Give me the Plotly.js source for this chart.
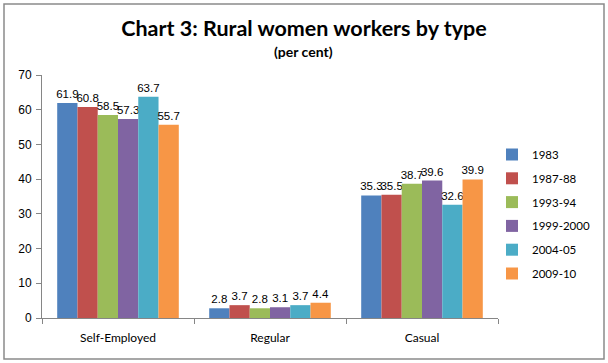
<!DOCTYPE html>
<html>
<head>
<meta charset="utf-8">
<script src="https://cdn.plot.ly/plotly-3.0.1.min.js"></script>
<style>
html,body{margin:0;padding:0;background:#fff;}
#chart{width:608px;height:363px;}
</style>
</head>
<body>
<div id="chart"></div>
<script>
const categories = ["Self-Employed", "Regular", "Casual"];
const seriesNames = ["1983", "1987-88", "1993-94", "1999-2000", "2004-05", "2009-10"];
const s1983 = [61.9, 2.8, 35.3];
const s1987 = [60.8, 3.7, 35.5];
const s1993 = [58.5, 2.8, 38.7];
const s1999 = [57.3, 3.1, 39.6];
const s2004 = [63.7, 3.7, 32.6];
const s2009 = [55.7, 4.4, 39.9];
const yTicks = [0, 10, 20, 30, 40, 50, 60, 70];

const seriesValues = [s1983, s1987, s1993, s1999, s2004, s2009];
const colors = ["#4F81BD", "#C0504D", "#9BBB59", "#8064A2", "#4BACC6", "#F79646"];

const traces = seriesValues.map((vals, i) => ({
  type: "bar",
  name: seriesNames[i],
  legendgroup: seriesNames[i],
  x: categories,
  y: vals,
  text: vals.map(v => v.toFixed(1)),
  textposition: "outside",
  constraintext: "none",
  cliponaxis: false,
  textfont: {family: "Liberation Sans, Arial, sans-serif", size: 11.5, color: "#000"},
  marker: {color: colors[i], line: {width: 0}},
  hoverinfo: "skip"
}));

const L = 42, R = 110, T = 75, B = 45, W = 608, H = 363;
const pw = W - L - R, ph = H - T - B;
function px2x(px){ return (px - L) / pw; }
function py2y(py){ return (H - B - py) / ph; }

const layout = {
  width: W, height: H,
  margin: {l: L, r: R, t: T, b: B, pad: 0, autoexpand: false},
  paper_bgcolor: "#fff",
  plot_bgcolor: "#fff",
  showlegend: true,
  bargap: 0.2,
  bargroupgap: 0,
  title: {
    text: "<b>Chart 3: Rural women workers by type</b>",
    font: {family: "Lato, Open Sans, sans-serif", size: 21.5, color: "#000"},
    x: 0.5, xanchor: "center", xref: "container",
    y: 1 - 28 / H, yanchor: "middle", yref: "container"
  },
  annotations: [{
    text: "<b>(per cent)</b>",
    xref: "paper", yref: "paper",
    x: px2x(303), y: py2y(51),
    xanchor: "center", yanchor: "middle",
    showarrow: false,
    font: {family: "Lato, Open Sans, sans-serif", size: 14, color: "#000"}
  }],
  xaxis: {
    type: "category",
    showline: true, linecolor: "#868686", linewidth: 1,
    ticks: "outside", tickson: "boundaries", ticklen: 5, tickcolor: "#868686",
    ticklabelstandoff: 9,
    tickfont: {family: "Lato, Open Sans, sans-serif", size: 12, color: "#000"},
    showgrid: false, zeroline: false, fixedrange: true
  },
  yaxis: {
    range: [0, 70],
    tickvals: yTicks,
    ticktext: yTicks.map(String),
    showline: true, linecolor: "#868686", linewidth: 1,
    ticks: "outside", ticklen: 5, tickcolor: "#868686",
    ticklabelstandoff: 2,
    tickfont: {family: "Liberation Sans, Arial, sans-serif", size: 12, color: "#000"},
    showgrid: false, zeroline: false, fixedrange: true
  },
  legend: {
    x: px2x(492), y: py2y(140),
    xanchor: "left", yanchor: "top",
    font: {family: "Lato, Open Sans, sans-serif", size: 11.5, color: "#000"},
    bgcolor: "rgba(0,0,0,0)",
    itemwidth: 30,
    tracegroupgap: 4.8,
    traceorder: "grouped"
  },
  shapes: [{
    type: "rect", xref: "paper", yref: "paper",
    x0: px2x(4), x1: px2x(604), y0: py2y(359), y1: py2y(4),
    line: {color: "#8a8a8a", width: 1.5},
    fillcolor: "rgba(0,0,0,0)", layer: "below"
  }]
};

Plotly.newPlot("chart", traces, layout, {displayModeBar: false, staticPlot: true});
</script>
</body>
</html>
